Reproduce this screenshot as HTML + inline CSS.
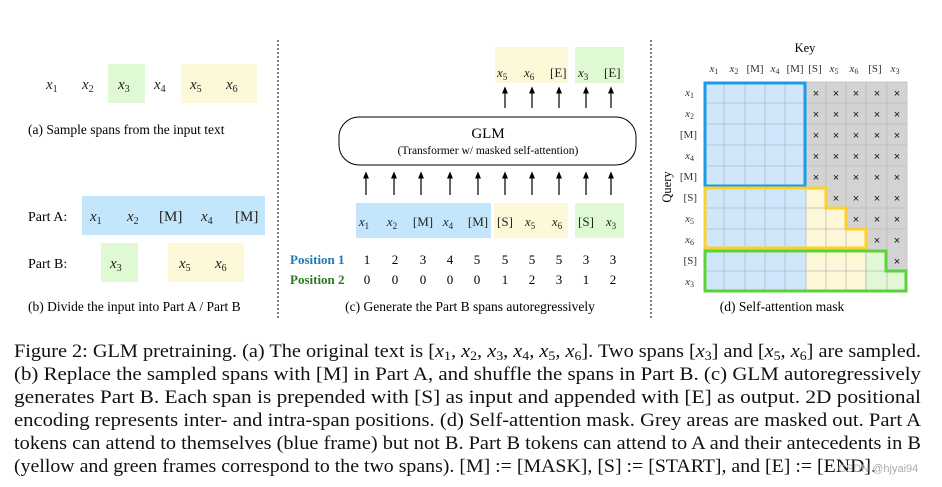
<!DOCTYPE html>
<html><head><meta charset="utf-8"><style>
body{margin:0;background:#fff}
svg{display:block;font-family:"Liberation Serif",serif}
.m{font-style:italic}
</style></head><body>
<svg width="942" height="487" viewBox="0 0 942 487" xmlns="http://www.w3.org/2000/svg">
<defs><marker id="ah" markerWidth="6" markerHeight="6" refX="3" refY="3" orient="auto"><path d="M0,0.5 L6,3 L0,5.5 z" fill="#000"/></marker></defs>
<!-- separators -->
<line x1="278" y1="40" x2="278" y2="320" stroke="#000" stroke-dasharray="2,2"/>
<line x1="651" y1="40" x2="651" y2="320" stroke="#000" stroke-dasharray="2,2"/>
<!-- (a) -->
<rect x="108" y="64" width="37" height="39" fill="#def9d4"/>
<rect x="181" y="64" width="76" height="39" fill="#fdf8d8"/>
<g font-size="15" fill="#222">
<text x="46" y="89" class="m">x<tspan font-size="10" font-style="normal" dy="3">1</tspan></text>
<text x="82" y="89" class="m">x<tspan font-size="10" font-style="normal" dy="3">2</tspan></text>
<text x="118" y="89" class="m">x<tspan font-size="10" font-style="normal" dy="3">3</tspan></text>
<text x="154" y="89" class="m">x<tspan font-size="10" font-style="normal" dy="3">4</tspan></text>
<text x="190" y="89" class="m">x<tspan font-size="10" font-style="normal" dy="3">5</tspan></text>
<text x="226" y="89" class="m">x<tspan font-size="10" font-style="normal" dy="3">6</tspan></text>
</g>
<text x="28" y="134" font-size="13.5">(a)  Sample spans from the input text</text>
<!-- (b) -->
<rect x="82" y="196" width="183" height="39" fill="#c4e6fc"/>
<rect x="101" y="243" width="37" height="39" fill="#def9d4"/>
<rect x="168" y="243" width="76" height="39" fill="#fdf8d8"/>
<text x="28" y="221" font-size="14">Part A:</text>
<text x="28" y="268" font-size="14">Part B:</text>
<g font-size="15" fill="#222">
<text x="90" y="221" class="m">x<tspan font-size="10" font-style="normal" dy="3">1</tspan></text>
<text x="127" y="221" class="m">x<tspan font-size="10" font-style="normal" dy="3">2</tspan></text>
<text x="159" y="221">[M]</text>
<text x="201" y="221" class="m">x<tspan font-size="10" font-style="normal" dy="3">4</tspan></text>
<text x="235" y="221">[M]</text>
<text x="110" y="268" class="m">x<tspan font-size="10" font-style="normal" dy="3">3</tspan></text>
<text x="179" y="268" class="m">x<tspan font-size="10" font-style="normal" dy="3">5</tspan></text>
<text x="215" y="268" class="m">x<tspan font-size="10" font-style="normal" dy="3">6</tspan></text>
</g>
<text x="28" y="311" font-size="13.5">(b)  Divide the input into Part A / Part B</text>
<!-- (c) -->
<rect x="495" y="47" width="73" height="36" fill="#fdf8d8"/>
<rect x="575" y="47" width="49" height="36" fill="#def9d4"/>
<g font-size="13" fill="#222">
<text x="497" y="77" class="m">x<tspan font-size="9" font-style="normal" dy="3">5</tspan></text>
<text x="524" y="77" class="m">x<tspan font-size="9" font-style="normal" dy="3">6</tspan></text>
<text x="550" y="77">[E]</text>
<text x="578" y="77" class="m">x<tspan font-size="9" font-style="normal" dy="3">3</tspan></text>
<text x="604" y="77">[E]</text>
</g>
<g stroke="#000" stroke-width="1.2" marker-end="url(#ah)">
<line x1="505" y1="108" x2="505" y2="90"/><line x1="532" y1="108" x2="532" y2="90"/><line x1="559" y1="108" x2="559" y2="90"/><line x1="586" y1="108" x2="586" y2="90"/><line x1="611" y1="108" x2="611" y2="90"/>
<line x1="366" y1="195" x2="366" y2="175"/><line x1="394" y1="195" x2="394" y2="175"/><line x1="421" y1="195" x2="421" y2="175"/><line x1="450" y1="195" x2="450" y2="175"/><line x1="478" y1="195" x2="478" y2="175"/><line x1="505" y1="195" x2="505" y2="175"/><line x1="532" y1="195" x2="532" y2="175"/><line x1="559" y1="195" x2="559" y2="175"/><line x1="586" y1="195" x2="586" y2="175"/><line x1="611" y1="195" x2="611" y2="175"/>
</g>
<rect x="339" y="117" width="297" height="48" rx="20" fill="none" stroke="#000" stroke-width="1"/>
<text x="488" y="138" font-size="15" text-anchor="middle">GLM</text>
<text x="488" y="154" font-size="11.5" text-anchor="middle">(Transformer w/ masked self-attention)</text>
<rect x="356" y="203" width="135" height="35" fill="#c4e6fc"/>
<rect x="494" y="203" width="74" height="35" fill="#fdf8d8"/>
<rect x="575" y="203" width="49" height="35" fill="#def9d4"/>
<g font-size="13" fill="#222" text-anchor="middle">
<text x="364" y="226" class="m">x<tspan font-size="9" font-style="normal" dy="3">1</tspan></text>
<text x="392" y="226" class="m">x<tspan font-size="9" font-style="normal" dy="3">2</tspan></text>
<text x="423" y="226">[M]</text>
<text x="448" y="226" class="m">x<tspan font-size="9" font-style="normal" dy="3">4</tspan></text>
<text x="478" y="226">[M]</text>
<text x="505" y="226">[S]</text>
<text x="530" y="226" class="m">x<tspan font-size="9" font-style="normal" dy="3">5</tspan></text>
<text x="557" y="226" class="m">x<tspan font-size="9" font-style="normal" dy="3">6</tspan></text>
<text x="586" y="226">[S]</text>
<text x="611" y="226" class="m">x<tspan font-size="9" font-style="normal" dy="3">3</tspan></text>
</g>
<text x="290" y="264" font-size="13" font-weight="bold" fill="#1f77b4">Position 1</text>
<text x="290" y="284" font-size="13" font-weight="bold" fill="#2a7a1c">Position 2</text>
<g font-size="13" text-anchor="middle">
<text x="367" y="264">1</text><text x="395" y="264">2</text><text x="423" y="264">3</text><text x="450" y="264">4</text><text x="477" y="264">5</text><text x="505" y="264">5</text><text x="532" y="264">5</text><text x="559" y="264">5</text><text x="586" y="264">3</text><text x="613" y="264">3</text>
<text x="367" y="284">0</text><text x="395" y="284">0</text><text x="423" y="284">0</text><text x="450" y="284">0</text><text x="477" y="284">0</text><text x="505" y="284">1</text><text x="532" y="284">2</text><text x="559" y="284">3</text><text x="586" y="284">1</text><text x="613" y="284">2</text>
</g>
<text x="470" y="311" font-size="13.5" text-anchor="middle">(c)  Generate the Part B spans autoregressively</text>
<!-- (d) -->
<text x="805" y="52" font-size="12.5" text-anchor="middle">Key</text>
<g id="grid"></g>
<g font-size="11" fill="#333" text-anchor="middle">
<text x="714" y="72" class="m">x<tspan font-size="8" font-style="normal" dy="2">1</tspan></text>
<text x="734" y="72" class="m">x<tspan font-size="8" font-style="normal" dy="2">2</tspan></text>
<text x="755" y="72">[M]</text>
<text x="775" y="72" class="m">x<tspan font-size="8" font-style="normal" dy="2">4</tspan></text>
<text x="795" y="72">[M]</text>
<text x="815" y="72">[S]</text>
<text x="834" y="72" class="m">x<tspan font-size="8" font-style="normal" dy="2">5</tspan></text>
<text x="854" y="72" class="m">x<tspan font-size="8" font-style="normal" dy="2">6</tspan></text>
<text x="875" y="72">[S]</text>
<text x="895" y="72" class="m">x<tspan font-size="8" font-style="normal" dy="2">3</tspan></text>
</g>
<g font-size="11" fill="#333" text-anchor="end">
<text x="694" y="96" class="m">x<tspan font-size="8" font-style="normal" dy="2">1</tspan></text>
<text x="694" y="117" class="m">x<tspan font-size="8" font-style="normal" dy="2">2</tspan></text>
<text x="697" y="138">[M]</text>
<text x="694" y="159" class="m">x<tspan font-size="8" font-style="normal" dy="2">4</tspan></text>
<text x="697" y="180">[M]</text>
<text x="697" y="201">[S]</text>
<text x="694" y="222" class="m">x<tspan font-size="8" font-style="normal" dy="2">5</tspan></text>
<text x="694" y="243" class="m">x<tspan font-size="8" font-style="normal" dy="2">6</tspan></text>
<text x="697" y="264">[S]</text>
<text x="694" y="285" class="m">x<tspan font-size="8" font-style="normal" dy="2">3</tspan></text>
</g>
<text transform="translate(671,187) rotate(-90)" font-size="12.5" text-anchor="middle">Query</text>
<g stroke="#bbb" stroke-width="0.8">
<!-- blue -->
<rect x="704" y="82" width="102" height="210" fill="#cfe6fb"/>
<!-- grey -->
<path d="M806,82 H907 V271 H887 V250 H866 V229 H846 V208 H826 V187 H806 Z" fill="#d3d3d3"/>
<!-- yellow -->
<path d="M806,187 H826 V208 H846 V229 H866 V292 H806 Z" fill="#fdf7d8"/>
<!-- green -->
<path d="M866,250 H887 V271 H907 V292 H866 Z" fill="#e2f7d6"/>
</g>
<g stroke="#bbb" stroke-width="0.8">
<line x1="724" y1="82" x2="724" y2="292"/><line x1="745" y1="82" x2="745" y2="292"/><line x1="765" y1="82" x2="765" y2="292"/><line x1="785" y1="82" x2="785" y2="292"/><line x1="826" y1="82" x2="826" y2="292"/><line x1="846" y1="82" x2="846" y2="292"/><line x1="866" y1="82" x2="866" y2="292"/><line x1="887" y1="82" x2="887" y2="292"/>
<line x1="704" y1="103" x2="907" y2="103"/><line x1="704" y1="124" x2="907" y2="124"/><line x1="704" y1="145" x2="907" y2="145"/><line x1="704" y1="166" x2="907" y2="166"/><line x1="704" y1="208" x2="907" y2="208"/><line x1="704" y1="229" x2="907" y2="229"/><line x1="704" y1="271" x2="907" y2="271"/>
</g>
<g font-size="11" font-family="Liberation Sans,sans-serif" text-anchor="middle" fill="#111">
<text x="816" y="97">×</text><text x="836" y="97">×</text><text x="856" y="97">×</text><text x="877" y="97">×</text><text x="897" y="97">×</text>
<text x="816" y="118">×</text><text x="836" y="118">×</text><text x="856" y="118">×</text><text x="877" y="118">×</text><text x="897" y="118">×</text>
<text x="816" y="139">×</text><text x="836" y="139">×</text><text x="856" y="139">×</text><text x="877" y="139">×</text><text x="897" y="139">×</text>
<text x="816" y="160">×</text><text x="836" y="160">×</text><text x="856" y="160">×</text><text x="877" y="160">×</text><text x="897" y="160">×</text>
<text x="816" y="181">×</text><text x="836" y="181">×</text><text x="856" y="181">×</text><text x="877" y="181">×</text><text x="897" y="181">×</text>
<text x="836" y="202">×</text><text x="856" y="202">×</text><text x="877" y="202">×</text><text x="897" y="202">×</text>
<text x="856" y="223">×</text><text x="877" y="223">×</text><text x="897" y="223">×</text>
<text x="877" y="244">×</text><text x="897" y="244">×</text>
<text x="897" y="265">×</text>
</g>
<rect x="705" y="83" width="100" height="103" fill="none" stroke="#1a9be8" stroke-width="3"/>
<path d="M705,188 H826 V208 H846 V229 H866 V248 H705 Z" fill="none" stroke="#fbd22c" stroke-width="3"/>
<path d="M705,251 H886 V271 H906 V291 H705 Z" fill="none" stroke="#5cd23a" stroke-width="3"/>
<text x="782" y="311" font-size="13.5" text-anchor="middle">(d)  Self-attention mask</text>
<!-- caption -->
<g font-size="19" fill="#111">
<text x="14" y="357" textLength="907" lengthAdjust="spacingAndGlyphs">Figure 2: GLM pretraining. (a) The original text is [<tspan class="m">x</tspan><tspan font-size="13" dy="3">1</tspan><tspan dy="-3">, </tspan><tspan class="m">x</tspan><tspan font-size="13" dy="3">2</tspan><tspan dy="-3">, </tspan><tspan class="m">x</tspan><tspan font-size="13" dy="3">3</tspan><tspan dy="-3">, </tspan><tspan class="m">x</tspan><tspan font-size="13" dy="3">4</tspan><tspan dy="-3">, </tspan><tspan class="m">x</tspan><tspan font-size="13" dy="3">5</tspan><tspan dy="-3">, </tspan><tspan class="m">x</tspan><tspan font-size="13" dy="3">6</tspan><tspan dy="-3">]. Two spans [</tspan><tspan class="m">x</tspan><tspan font-size="13" dy="3">3</tspan><tspan dy="-3">] and [</tspan><tspan class="m">x</tspan><tspan font-size="13" dy="3">5</tspan><tspan dy="-3">, </tspan><tspan class="m">x</tspan><tspan font-size="13" dy="3">6</tspan><tspan dy="-3">] are sampled.</tspan></text>
<text x="14" y="380" textLength="907" lengthAdjust="spacingAndGlyphs">(b) Replace the sampled spans with [M] in Part A, and shuffle the spans in Part B. (c) GLM autoregressively</text>
<text x="14" y="403" textLength="907" lengthAdjust="spacingAndGlyphs">generates Part B. Each span is prepended with [S] as input and appended with [E] as output.  2D positional</text>
<text x="14" y="426" textLength="907" lengthAdjust="spacingAndGlyphs">encoding represents inter- and intra-span positions. (d) Self-attention mask. Grey areas are masked out. Part A</text>
<text x="14" y="449" textLength="907" lengthAdjust="spacingAndGlyphs">tokens can attend to themselves (blue frame) but not B. Part B tokens can attend to A and their antecedents in B</text>
<text x="14" y="472" textLength="862" lengthAdjust="spacingAndGlyphs">(yellow and green frames correspond to the two spans). [M] := [MASK], [S] := [START], and [E] := [END].</text>
</g>
<text x="838" y="472" font-size="11" fill="#aaa" font-family="Liberation Sans,sans-serif">CSDN @hjyai94</text>
</svg>
</body></html>
